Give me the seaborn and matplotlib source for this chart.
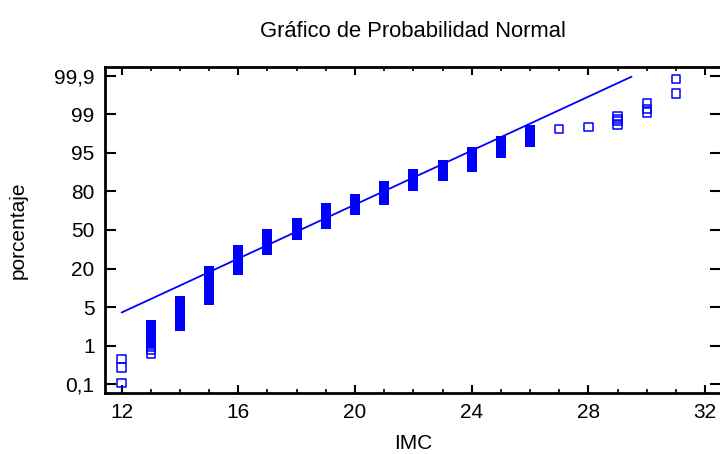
import numpy as np
import pandas as pd
import matplotlib
matplotlib.use("Agg")
import matplotlib.pyplot as plt
from matplotlib.ticker import MultipleLocator
import seaborn as sns

# ---------------- data ----------------
# dense stacks of observations: IMC value, lowest and highest cumulative percentage
stack_imc = [13, 14, 15, 16, 17, 18, 19, 20, 21, 22, 23, 24, 25, 26]
stack_low = [1.12, 2.30, 6.6, 18.9, 32.5, 45.2, 55.2, 67.6, 74.5, 83.5, 88.3, 91.5, 94.9, 96.8]
stack_high = [2.35, 6.2, 18.2, 32.9, 46.5, 56.4, 68.9, 75.6, 83.4, 88.95, 92.1, 95.15, 96.9, 98.07]

# isolated observations
point_imc = [12, 12, 12, 13, 13, 13, 27, 28, 29, 29, 29, 29, 30, 30, 30, 31, 31]
point_pct = [0.106, 0.27, 0.45, 0.63, 0.755, 0.93, 98.16, 98.3,
             98.42, 98.67, 98.79, 98.92, 99.10, 99.27, 99.49, 99.71, 99.88]

# fitted normal line
fit_imc = [12.0, 29.48]
fit_pct = [4.0, 99.895]

# axis ticks
x_ticks = [12, 16, 20, 24, 28, 32]
y_tick_pct = [0.1, 1, 5, 20, 50, 80, 95, 99, 99.9]
y_tick_labels = ["0,1", "1", "5", "20", "50", "80", "95", "99", "99,9"]

title = "Gráfico de Probabilidad Normal"
x_label = "IMC"
y_label = "porcentaje"

# ---------------- probability scale ----------------
def _logit(p):
    p = np.clip(np.asarray(p, dtype=float) / 100.0, 1e-12, 1 - 1e-12)
    return np.log(p / (1 - p))

_anchor_pct = np.array([0.01] + y_tick_pct + [99.99])
_anchor_l = _logit(_anchor_pct)
_anchor_i = np.arange(-1, len(y_tick_pct) + 1, dtype=float)

def fwd(p):
    return np.interp(_logit(p), _anchor_l, _anchor_i)

def inv(i):
    l = np.interp(np.asarray(i, dtype=float), _anchor_i, _anchor_l)
    return 100.0 / (1.0 + np.exp(-l))

# ---------------- plot ----------------
sns.set_theme(style="ticks")
plt.rcParams["font.family"] = ["Liberation Sans", "DejaVu Sans"]
plt.rcParams.update({"text.color": "black", "axes.labelcolor": "black",
                     "xtick.color": "black", "ytick.color": "black"})

BLUE = "#0000ff"
fig = plt.figure(figsize=(7.2, 4.54), dpi=100)
ax = fig.add_axes([105 / 720, 61 / 454, 616 / 720, 326 / 454])
ax.set_facecolor("white")
ax.set_yscale("function", functions=(fwd, inv))

pts = pd.DataFrame({"IMC": point_imc, "pct": point_pct})
fit = pd.DataFrame({"IMC": fit_imc, "pct": fit_pct})

ax.vlines(stack_imc, stack_low, stack_high, colors=BLUE, linewidth=7.2,
          capstyle="projecting", zorder=3)
sns.scatterplot(data=pts, x="IMC", y="pct", marker="s", s=36,
                facecolor="none", edgecolor=BLUE, linewidth=1.1, ax=ax, zorder=4)
sns.lineplot(data=fit, x="IMC", y="pct", color=BLUE, linewidth=1.3, ax=ax, zorder=5)

ax.set_xlim(11.43, 32.545)
ax.set_ylim(inv(-0.23), inv(len(y_tick_pct) - 1 + 0.23))

ax.set_xticks(x_ticks)
ax.xaxis.set_minor_locator(MultipleLocator(1))
ax.set_yticks(y_tick_pct, labels=y_tick_labels)
ax.yaxis.set_minor_locator(matplotlib.ticker.NullLocator())

ax.tick_params(axis="x", which="major", direction="in", length=6, width=1.5,
               top=True, bottom=True, labelsize=15, pad=7, colors="black")
ax.tick_params(axis="x", which="minor", direction="in", length=3, width=1.2,
               top=True, bottom=True, colors="black")
ax.tick_params(axis="y", which="major", direction="in", length=8, width=1.5,
               left=True, right=True, labelsize=15, pad=7.5, colors="black")
for s in ax.spines.values():
    s.set_linewidth(2.0)
    s.set_color("black")

ax.set_title(title, fontsize=15.8, pad=21.4, color="black")
ax.set_xlabel(x_label, fontsize=15, color="black")
ax.set_ylabel(y_label, fontsize=15, color="black")
ax.xaxis.set_label_coords((413 - 105) / 616, -0.1258)
ax.yaxis.set_label_coords(-0.1250, 0.5)

fig.savefig("out.png", dpi=100, facecolor="white")
